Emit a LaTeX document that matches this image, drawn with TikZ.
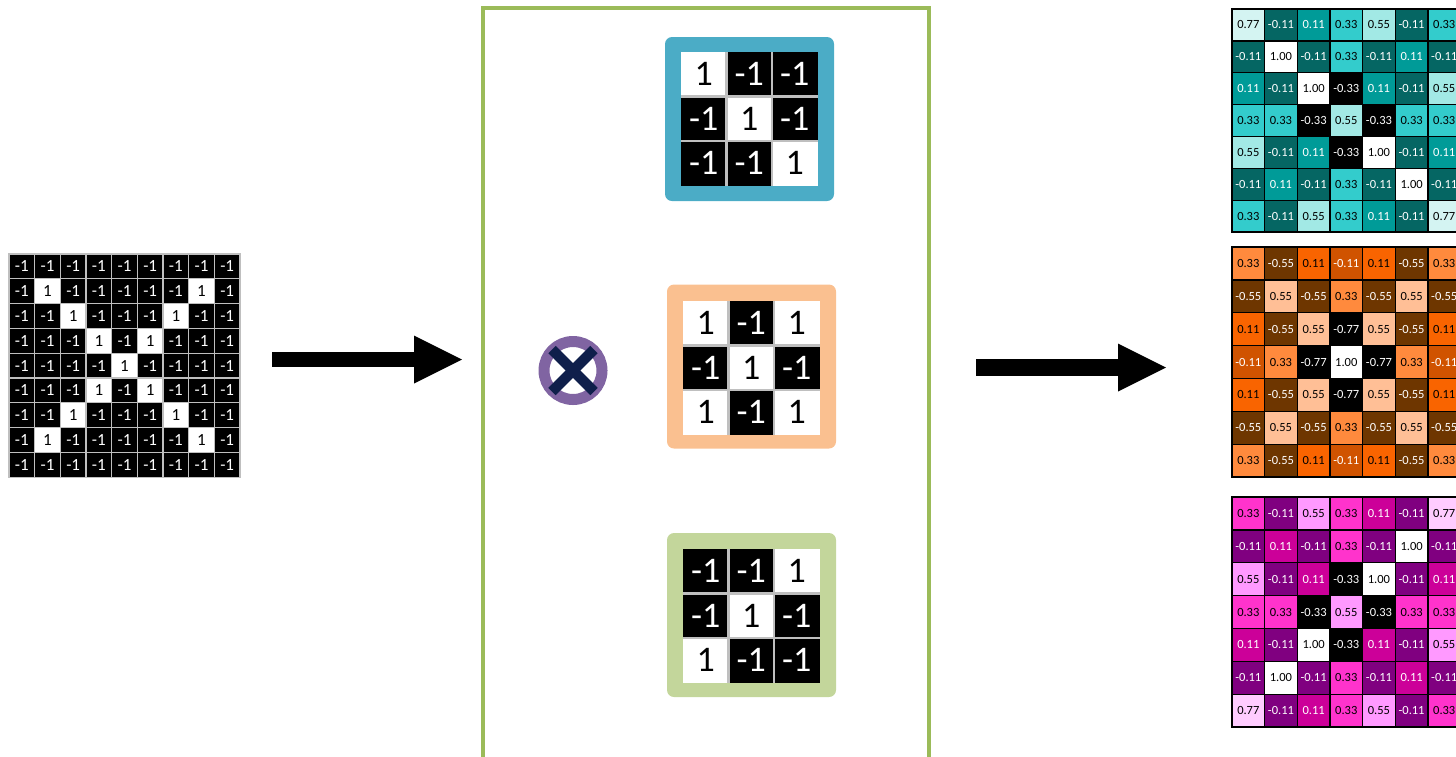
\documentclass[tikz,border=0pt]{standalone}
\usepackage{fontspec}
\setmainfont{Carlito}
\usetikzlibrary{arrows.meta}
\definecolor{kblue}{HTML}{4BACC6}
\definecolor{korange}{HTML}{FAC090}
\definecolor{kgreen}{HTML}{C3D69B}
\definecolor{frameg}{HTML}{9BBB59}
\definecolor{mpurple}{HTML}{8064A2}
\definecolor{mnavy}{HTML}{0F1F4B}
\definecolor{gridgray}{HTML}{BFBFBF}
% teal
\definecolor{tA}{HTML}{D4F4F2}
\definecolor{tB}{HTML}{056663}
\definecolor{tC}{HTML}{009B98}
\definecolor{tD}{HTML}{33CCCC}
\definecolor{tE}{HTML}{A2E9E5}
% orange
\definecolor{oA}{HTML}{FF8A3D}
\definecolor{oB}{HTML}{6E3600}
\definecolor{oC}{HTML}{F96400}
\definecolor{oD}{HTML}{D05300}
\definecolor{oE}{HTML}{FFBF96}
% magenta
\definecolor{mA}{HTML}{FF33CC}
\definecolor{mB}{HTML}{800080}
\definecolor{mC}{HTML}{FF99FF}
\definecolor{mD}{HTML}{CC0099}
\definecolor{mE}{HTML}{FFCCFF}

\newcommand\kernelgrid[4]{%
  \foreach [count=\r] \row in {#4}{%
    \foreach [count=\c] \v in \row{%
      \node[kcell, kv\v] (#1-\r-\c) at ({#2+(\c-0.5)*45.5},{#3+(\r-0.5)*44.5}) {\v};
    }}
  \draw[kline] (#1-1-1.north east) -- (#1-3-1.south east);
  \draw[kline] (#1-1-2.north east) -- (#1-3-2.south east);
  \draw[kline] (#1-1-1.south west) -- (#1-1-3.south east);
  \draw[kline] (#1-2-1.south west) -- (#1-2-3.south east);
}
\newcommand\outgrid[5]{%
  \foreach [count=\r] \row in {#5}{%
    \foreach [count=\c] \v in \row{%
      \node[ocell, minimum height=#4pt, #1\v] (#1-\r-\c) at ({#2+(\c-0.5)*32.65},{#3+(\r-0.5)*#4}) {\v};
    }}
}

\begin{document}
\begin{tikzpicture}[x=1pt,y=-1pt,
  icell/.style={rectangle, draw=gridgray, line width=1.3pt, inner sep=0pt,
    minimum width=25.67pt, minimum height=24.8pt, font=\fontsize{17}{17}\selectfont},
  kcell/.style={rectangle, inner sep=0pt, minimum width=45.5pt, minimum height=44.5pt,
    font=\fontsize{36}{36}\selectfont},
  kv1/.style={fill=white, text=black},
  kv-1/.style={fill=black, text=white},
  kline/.style={draw=gridgray, line width=2.5pt},
  kframe/.style={rectangle, rounded corners=7pt, inner sep=0pt,
    minimum width=169pt, minimum height=164pt},
  ocell/.style={rectangle, draw=black, line width=1.3pt, inner sep=0pt,
    minimum width=32.65pt, font=\fontsize{12.5}{13}\selectfont},
  T0.77/.style={fill=tA, text=black},
  T-0.11/.style={fill=tB, text=white},
  T0.11/.style={fill=tC, text=white},
  T0.33/.style={fill=tD, text=black},
  T0.55/.style={fill=tE, text=black},
  T1.00/.style={fill=white, text=black},
  T-0.33/.style={fill=black, text=white},
  O0.33/.style={fill=oA, text=black},
  O-0.55/.style={fill=oB, text=white},
  O0.11/.style={fill=oC, text=black},
  O-0.11/.style={fill=oD, text=white},
  O0.55/.style={fill=oE, text=black},
  O1.00/.style={fill=white, text=black},
  O-0.77/.style={fill=black, text=white},
  M0.33/.style={fill=mA, text=black},
  M-0.11/.style={fill=mB, text=white},
  M0.55/.style={fill=mC, text=black},
  M0.11/.style={fill=mD, text=white},
  M0.77/.style={fill=mE, text=black},
  M1.00/.style={fill=white, text=black},
  M-0.33/.style={fill=black, text=white},
  bigarrow/.style={-{Triangle[length=48pt,width=48pt,line width=0pt]}}
]
\useasboundingbox (0,0) rectangle (1456,756);
\clip (0,0) rectangle (1456,756);

% input image
\foreach \r in {0,...,8}{%
  \foreach \c in {0,...,8}{%
    \pgfmathtruncatemacro\isone{and(or(\r==\c,\r+\c==8),and(\r>0,\r<8))}%
    \ifnum\isone=1
      \node[icell, fill=white, text=black] (in-\r-\c) at ({9+(\c+0.5)*25.67},{254+(\r+0.5)*24.8}) {1};
    \else
      \node[icell, fill=black, text=white] (in-\r-\c) at ({9+(\c+0.5)*25.67},{254+(\r+0.5)*24.8}) {-1};
    \fi
  }}

% arrows
\coordinate (a1s) at (272,359.5);
\coordinate (a1e) at (462,359.5);
\draw[bigarrow, line width=15pt] (a1s) -- (a1e);
\coordinate (a2s) at (976,367.5);
\coordinate (a2e) at (1166,367.5);
\draw[bigarrow, line width=17pt] (a2s) -- (a2e);

% green frame
\draw[frameg, line width=4pt] (483,790) -- (483,8) -- (929,8) -- (929,790);

% multiply sign
\node[circle, draw=mpurple, fill=white, line width=11pt, minimum size=58pt, inner sep=0pt] (mult) at (573,370.5) {};
\draw[mnavy, line width=10.5pt] ([shift={(-21,-21)}]mult.center) -- ([shift={(21,21)}]mult.center);
\draw[mnavy, line width=10.5pt] ([shift={(21,-21)}]mult.center) -- ([shift={(-21,21)}]mult.center);

% kernels
\node[kframe, fill=kblue] (kf1) at (749.5,119) {};
\node[kframe, fill=korange] (kf2) at (751.5,366.5) {};
\node[kframe, fill=kgreen] (kf3) at (751.5,615) {};
\kernelgrid{k1}{681}{52}{{1,-1,-1},{-1,1,-1},{-1,-1,1}}
\kernelgrid{k2}{683}{301}{{1,-1,1},{-1,1,-1},{1,-1,1}}
\kernelgrid{k3}{683}{549}{{-1,-1,1},{-1,1,-1},{1,-1,-1}}

% output feature maps
\outgrid{T}{1232}{9}{31.86}{%
 {0.77,-0.11,0.11,0.33,0.55,-0.11,0.33},%
 {-0.11,1.00,-0.11,0.33,-0.11,0.11,-0.11},%
 {0.11,-0.11,1.00,-0.33,0.11,-0.11,0.55},%
 {0.33,0.33,-0.33,0.55,-0.33,0.33,0.33},%
 {0.55,-0.11,0.11,-0.33,1.00,-0.11,0.11},%
 {-0.11,0.11,-0.11,0.33,-0.11,1.00,-0.11},%
 {0.33,-0.11,0.55,0.33,0.11,-0.11,0.77}}
\outgrid{O}{1232}{247}{32.86}{%
 {0.33,-0.55,0.11,-0.11,0.11,-0.55,0.33},%
 {-0.55,0.55,-0.55,0.33,-0.55,0.55,-0.55},%
 {0.11,-0.55,0.55,-0.77,0.55,-0.55,0.11},%
 {-0.11,0.33,-0.77,1.00,-0.77,0.33,-0.11},%
 {0.11,-0.55,0.55,-0.77,0.55,-0.55,0.11},%
 {-0.55,0.55,-0.55,0.33,-0.55,0.55,-0.55},%
 {0.33,-0.55,0.11,-0.11,0.11,-0.55,0.33}}
\outgrid{M}{1232}{497}{32.86}{%
 {0.33,-0.11,0.55,0.33,0.11,-0.11,0.77},%
 {-0.11,0.11,-0.11,0.33,-0.11,1.00,-0.11},%
 {0.55,-0.11,0.11,-0.33,1.00,-0.11,0.11},%
 {0.33,0.33,-0.33,0.55,-0.33,0.33,0.33},%
 {0.11,-0.11,1.00,-0.33,0.11,-0.11,0.55},%
 {-0.11,1.00,-0.11,0.33,-0.11,0.11,-0.11},%
 {0.77,-0.11,0.11,0.33,0.55,-0.11,0.33}}
\end{tikzpicture}
\end{document}
